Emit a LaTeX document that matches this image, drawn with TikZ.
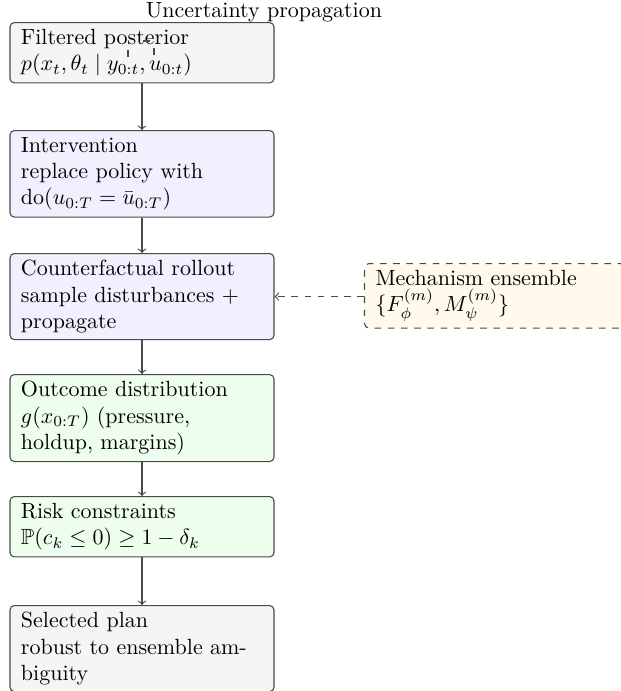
\documentclass[tikz,border=0pt]{standalone}
\usepackage{amsmath,amssymb}
\definecolor{greyfill}{HTML}{F5F5F5}
\definecolor{bluefill}{HTML}{F0F0FE}
\definecolor{greenfill}{HTML}{EEFEEE}
\definecolor{creamfill}{HTML}{FFFAEB}
\definecolor{edge}{HTML}{4A4A4A}
\begin{document}
\begin{tikzpicture}[x=0.4545pt,y=-0.4545pt,
  stage/.style={draw=edge, line width=0.5pt, rounded corners=2pt,
    text width=110pt, inner xsep=5pt, inner ysep=3pt, align=left},
  flow/.style={->, draw=edge, line width=0.5pt},
  sideflow/.style={->, dashed, draw=edge, line width=0.5pt},
  groupline/.style={dashed, draw=edge, line width=0.5pt}]
\useasboundingbox (0,0) rectangle (621,691);

% main pipeline
\node[stage, fill=greyfill, anchor=north] (post) at (142,22)
  {Filtered posterior\\ $p(x_t,\theta_t \mid y_{0:t}, u_{0:t})$};
\node[stage, fill=bluefill, anchor=north] (interv) at (142,130)
  {Intervention\\ replace policy with $\mathrm{do}(u_{0:T}=\bar{u}_{0:T})$};
\node[stage, fill=bluefill, anchor=north] (cf) at (142,253)
  {Counterfactual rollout\\ sample disturbances + propagate};
\node[stage, fill=greenfill, anchor=north] (outc) at (142,374)
  {Outcome distribution\\ $g(x_{0:T})$ (pressure, holdup, margins)};
\node[stage, fill=greenfill, anchor=north] (risk) at (142,496)
  {Risk constraints\\ $\mathbb{P}(c_k \le 0) \ge 1-\delta_k$};
\node[stage, fill=greyfill, anchor=north] (plan) at (142,605)
  {Selected plan\\ robust to ensemble ambiguity};

% model ensemble feeding the rollout
\node[stage, dashed, fill=creamfill, anchor=north west] (mech) at (364,263)
  {Mechanism ensemble\\ $\{F_\phi^{(m)}, M_\psi^{(m)}\}$};

% group label and its frame
\node[anchor=base] (title) at (264,17) {Uncertainty propagation};
\draw[groupline] (143,41) -- (154,41) (128,50) -- (128,57) (154,48) -- (154,55);

% connectors
\draw[flow] (post.south) -- (interv.north);
\draw[flow] (interv.south) -- (cf.north);
\draw[flow] (cf.south) -- (outc.north);
\draw[flow] (outc.south) -- (risk.north);
\draw[flow] (risk.south) -- (plan.north);
\draw[sideflow] (cf.east -| mech.west) -- (cf.east);
\end{tikzpicture}
\end{document}
